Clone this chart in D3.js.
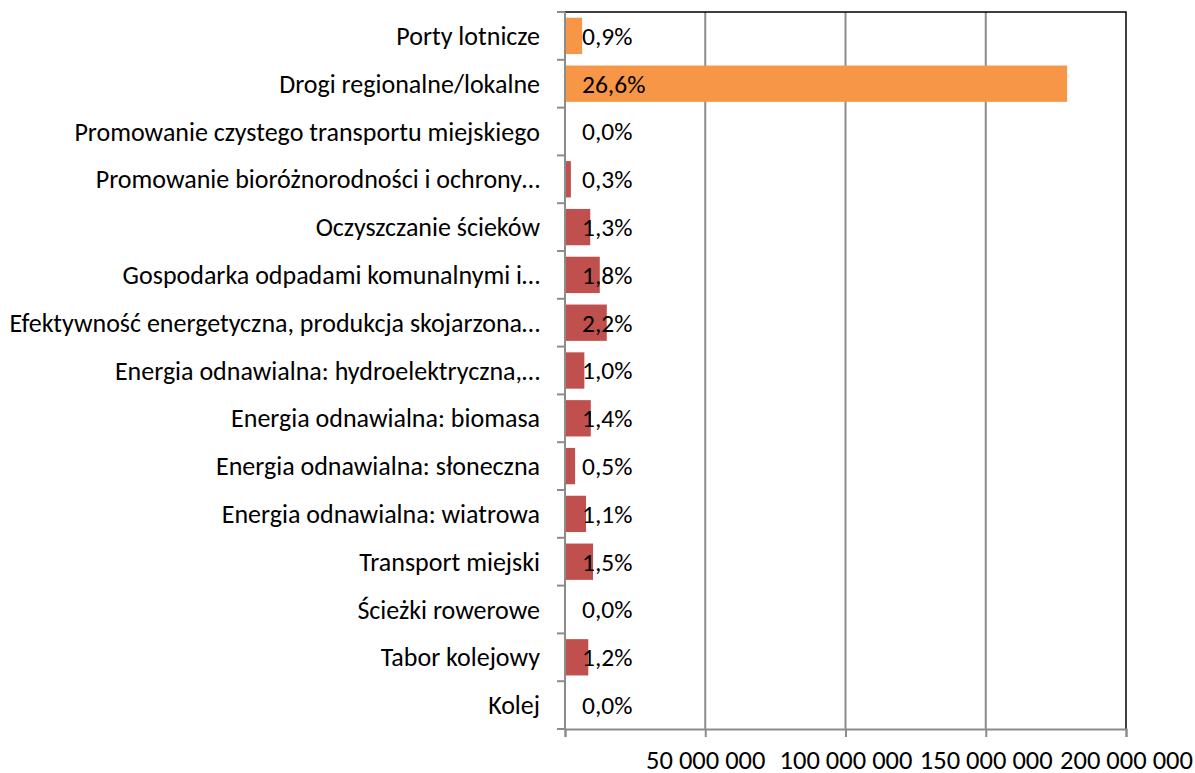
<!DOCTYPE html>
<html>
<head>
<meta charset="utf-8">
<script src="https://cdn.jsdelivr.net/npm/d3@7"></script>
<style>
  body { margin: 0; background: #fff; }
  text { font-family: Carlito, Calibri, Lato, sans-serif; fill: #000; }
</style>
</head>
<body>
<div id="viz"></div>
<script>
// categories, top to bottom
var categories = [
  "Porty lotnicze",
  "Drogi regionalne/lokalne",
  "Promowanie czystego transportu miejskiego",
  "Promowanie bioróżnorodności i ochrony…",
  "Oczyszczanie ścieków",
  "Gospodarka odpadami komunalnymi i…",
  "Efektywność energetyczna, produkcja skojarzona…",
  "Energia odnawialna: hydroelektryczna,…",
  "Energia odnawialna: biomasa",
  "Energia odnawialna: słoneczna",
  "Energia odnawialna: wiatrowa",
  "Transport miejski",
  "Ścieżki rowerowe",
  "Tabor kolejowy",
  "Kolej"
];
// amounts
var amounts = [6.1e6, 179.0e6, 0, 2.1e6, 9.0e6, 12.4e6, 14.9e6, 6.9e6, 9.2e6, 3.6e6, 7.5e6, 10.0e6, 0, 8.3e6, 0];
// share labels as printed
var shares = ["0,9%", "26,6%", "0,0%", "0,3%", "1,3%", "1,8%", "2,2%", "1,0%", "1,4%", "0,5%", "1,1%", "1,5%", "0,0%", "1,2%", "0,0%"];
var xTicks = [0, 50e6, 100e6, 150e6, 200e6];
// categories drawn in the second colour
var highlighted = ["Porty lotnicze", "Drogi regionalne/lokalne"];

var margin = { top: 12, right: 69, bottom: 44, left: 565 },
  width = 1195 - margin.left - margin.right,
  height = 773 - margin.top - margin.bottom;

var svg = d3.select("#viz").append("svg")
  .attr("width", 1195).attr("height", 773)
  .append("g")
  .attr("transform", "translate(" + margin.left + "," + margin.top + ")");

var x = d3.scaleLinear().domain([0, 200e6]).range([0, width]);
var y = d3.scaleBand().domain(categories).range([0, height])
  .paddingInner(0.24).paddingOuter(0.12);
var band = height / categories.length;

var fmt = function (d) { return d === 0 ? "" : d3.format(",")(d).replace(/,/g, " "); };

// gridlines
svg.append("g").selectAll("line")
  .data(xTicks.slice(1, -1))
  .enter().append("line")
  .attr("x1", function (d) { return x(d); }).attr("x2", function (d) { return x(d); })
  .attr("y1", 0).attr("y2", height)
  .attr("stroke", "#8c8c8c").attr("stroke-width", 2);

// top and right border
svg.append("path")
  .attr("d", "M0,0H" + width + "V" + height)
  .attr("fill", "none").attr("stroke", "#000").attr("stroke-width", 1.5);

// bars
svg.append("g").selectAll("rect")
  .data(categories)
  .enter().append("rect")
  .attr("x", 0)
  .attr("y", function (d) { return y(d); })
  .attr("width", function (d, i) { return x(amounts[i]); })
  .attr("height", y.bandwidth())
  .attr("fill", function (d) { return highlighted.indexOf(d) >= 0 ? "#f79646" : "#c0504d"; });

// x axis
var xAxis = svg.append("g")
  .attr("transform", "translate(0," + height + ")")
  .call(d3.axisBottom(x).tickValues(xTicks).tickFormat(fmt).tickSize(8).tickPadding(13));
xAxis.select(".domain").attr("stroke", "#8c8c8c").attr("stroke-width", 2);
xAxis.selectAll(".tick line").attr("stroke", "#8c8c8c").attr("stroke-width", 2);
xAxis.selectAll("text").style("font-size", "26.5px");

// y axis: ticks at band edges
var edges = d3.range(categories.length + 1).map(function (i) { return i * band; });
svg.append("g").selectAll("line")
  .data(edges)
  .enter().append("line")
  .attr("x1", -8).attr("x2", 0)
  .attr("y1", function (d) { return d; }).attr("y2", function (d) { return d; })
  .attr("stroke", "#8c8c8c").attr("stroke-width", 2);
svg.append("line")
  .attr("x1", 0).attr("x2", 0).attr("y1", 0).attr("y2", height)
  .attr("stroke", "#8c8c8c").attr("stroke-width", 2);

svg.append("g").selectAll("text")
  .data(categories)
  .enter().append("text")
  .attr("x", -25)
  .attr("y", function (d) { return y(d) + y.bandwidth() / 2; })
  .attr("dy", "0.35em")
  .attr("text-anchor", "end")
  .style("font-size", "26px")
  .text(function (d) { return d; });

// share labels
svg.append("g").selectAll("text")
  .data(categories)
  .enter().append("text")
  .attr("x", 17)
  .attr("y", function (d) { return y(d) + y.bandwidth() / 2; })
  .attr("dy", "0.35em")
  .style("font-size", "25.5px")
  .text(function (d, i) { return shares[i]; });
</script>
</body>
</html>
